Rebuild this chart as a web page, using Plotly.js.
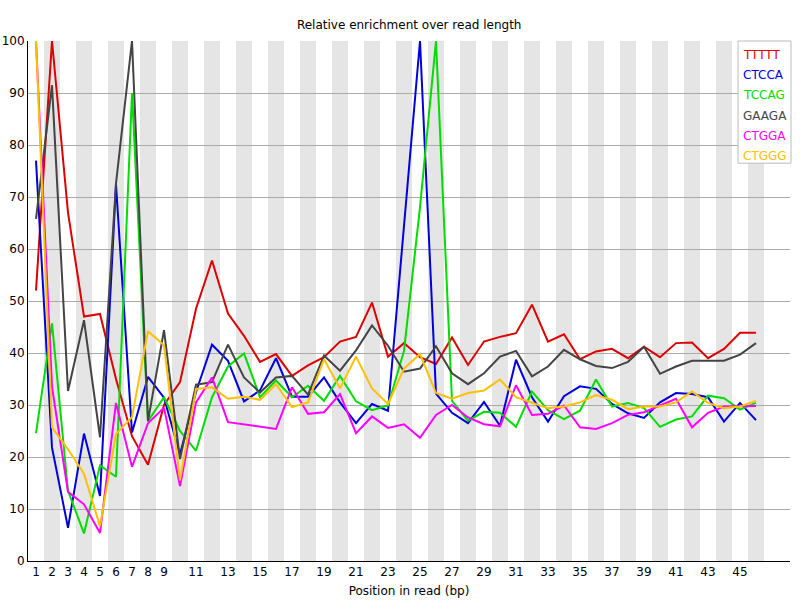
<!DOCTYPE html>
<html>
<head>
<meta charset="utf-8">
<script src="https://cdn.plot.ly/plotly-3.0.1.min.js"></script>
<style>
	body { margin: 0; background: #fff; }
	#chart { width: 800px; height: 600px; }
</style>
</head>
<body>
<div id="chart"></div>
<script>
var positions = [];
for (var p = 1; p <= 46; p++) { positions.push(p); }

var tickVals = [1, 2, 3, 4, 5, 6, 7, 8, 9, 11, 13, 15, 17, 19, 21, 23, 25, 27, 29, 31, 33, 35, 37, 39, 41, 43, 45];
var tickText = ["1", "2", "3", "4", "5", "6", "7", "8", "9", "11", "13", "15", "17", "19", "21", "23", "25", "27", "29", "31", "33", "35", "37", "39", "41", "43", "45"];

var kmers = ["TTTTT", "CTCCA", "TCCAG", "GAAGA", "CTGGA", "CTGGG"];
var colours = ["#dd0000", "#0000dd", "#00dd00", "#444444", "#ff00ff", "#ffc000"];

var tttttVals = [52, 100, 67, 47, 47.5, 35, 24, 18.5, 30, 34.4, 48.5, 57.8, 47.6, 43.3, 38.3, 39.8, 35.6, 37.6, 39.2, 42.2, 43.1, 49.7, 39.3, 41.9, 39.2, 37.9, 43, 37.7, 42.2, 43.1, 43.8, 49.3, 42.2, 43.6, 38.8, 40.3, 40.8, 39, 41.2, 39.2, 41.9, 42, 39, 40.8, 43.9, 43.9];
var ctccaVals = [77, 21.8, 6.4, 24.5, 12.5, 72.4, 24.7, 35.4, 31.4, 20.5, 32.5, 41.6, 38.5, 30.7, 32.8, 39, 31.6, 31.6, 35.3, 30.5, 26.5, 30.2, 28.9, 64.5, 100, 32.2, 28.5, 26.5, 30.6, 26, 38.7, 31.5, 26.8, 31.7, 33.6, 33.1, 30.2, 28.4, 27.5, 30.5, 32.3, 32.1, 31.5, 26.8, 30.4, 27.1];
var tccagVals = [24.6, 45.7, 13.5, 5.3, 18.4, 16.2, 90, 26.9, 31.5, 25, 21.2, 31.5, 37.4, 39.9, 31.5, 34.7, 31.5, 33.7, 30.8, 35.6, 30.7, 29, 29.9, 40.4, 68, 100, 30.8, 27, 28.7, 28.5, 25.8, 32.6, 29, 27.3, 28.9, 34.9, 29.7, 30.4, 29.4, 25.8, 27.2, 27.8, 31.8, 31.3, 29.1, 30.4];
var gaagaVals = [65.8, 91.5, 32.7, 46.3, 23.8, 72.6, 100, 26.9, 44.4, 19.6, 33.9, 34.4, 41.6, 35.3, 32.4, 35.3, 35.6, 32, 39.5, 36.6, 40.5, 45.3, 41.4, 36.4, 37, 41.3, 36.1, 34, 36.1, 39.3, 40.4, 35.5, 37.4, 40.6, 38.8, 37.5, 37.1, 38.3, 41.2, 36, 37.4, 38.5, 38.5, 38.5, 39.7, 41.9];
var ctggaVals = [100, 33.5, 13.3, 10.9, 5.4, 30.4, 18.1, 26.5, 29.5, 14.4, 30.5, 35.3, 26.7, 26.3, 25.8, 25.4, 33.4, 28.3, 28.6, 32.1, 24.6, 27.8, 25.6, 26.3, 23.7, 28.1, 30, 27.6, 26.3, 25.9, 33.8, 28.1, 28.3, 29.9, 25.7, 25.4, 26.5, 28.1, 28.6, 29.9, 31.2, 25.7, 28.5, 29.7, 29.7, 29.8];
var ctgggVals = [100, 25.7, 21.5, 16.8, 6.7, 24.4, 27.7, 44.2, 41.5, 15.5, 33.1, 33.4, 31.2, 31.6, 31, 34, 29.6, 30.5, 38.8, 33.2, 39.3, 33.2, 30.2, 37, 39.8, 32.3, 31.2, 32.3, 32.8, 34.9, 31.5, 30.5, 29.4, 29.7, 30.5, 31.9, 31, 29.2, 29.7, 29.7, 30.5, 32.6, 30.4, 29.4, 29.7, 30.8];

var series = [tttttVals, ctccaVals, tccagVals, gaagaVals, ctggaVals, ctgggVals];

function drawChart() {
	var font = "DejaVu Sans, sans-serif";
	var data = [];
	for (var i = 0; i < kmers.length; i++) {
		data.push({
			x: positions,
			y: series[i],
			name: kmers[i],
			mode: 'lines',
			type: 'scatter',
			line: {color: colours[i], width: 2}
		});
	}

	// grey stripes on even positions
	var shapes = [];
	for (var j = 0; j < positions.length; j++) {
		if (positions[j] % 2 == 0) {
			shapes.push({
				type: 'rect', xref: 'x', yref: 'paper', layer: 'below',
				x0: positions[j] - 0.5, x1: positions[j] + 0.5, y0: 0, y1: 1,
				fillcolor: '#e5e5e5', line: {width: 0}
			});
		}
	}

	// legend box drawn by hand, text in series colour
	shapes.push({
		type: 'rect', xref: 'paper', yref: 'paper', layer: 'above',
		x0: 0.9318, x1: 1.0013, y0: 0.765, y1: 1.0,
		fillcolor: 'rgba(255,255,255,1)', line: {color: '#bbbbbb', width: 1}
	});
	var annotations = [];
	for (var k = 0; k < kmers.length; k++) {
		var yc = 55 + k * 20.2;
		annotations.push({
			xref: 'paper', yref: 'paper', x: 0.9355, y: (561 - yc) / 520,
			xanchor: 'left', yanchor: 'middle', showarrow: false,
			text: kmers[k], font: {family: font, size: 12, color: colours[k]}
		});
	}

	var layout = {
		width: 800,
		height: 600,
		margin: {l: 28, r: 10, t: 41, b: 39},
		paper_bgcolor: '#ffffff',
		plot_bgcolor: '#ffffff',
		showlegend: false,
		font: {family: font, size: 12, color: '#000000'},
		title: {text: 'Relative enrichment over read length', x: 0.5115, xanchor: 'center', y: 0.958, yanchor: 'middle', font: {family: font, size: 12}},
		xaxis: {
			range: [0.5, 48.125],
			tickmode: 'array', tickvals: tickVals, ticktext: tickText,
			showgrid: false, zeroline: false, ticks: '',
			showline: true, linecolor: '#000000', linewidth: 1,
			automargin: false,
			title: {text: 'Position in read (bp)', standoff: 8, font: {family: font, size: 12}}
		},
		yaxis: {
			range: [0, 100], dtick: 10,
			showgrid: true, gridcolor: '#aaaaaa', gridwidth: 1,
			zeroline: false, ticks: '',
			showline: true, linecolor: '#000000', linewidth: 1,
			automargin: false
		},
		shapes: shapes,
		annotations: annotations
	};

	Plotly.newPlot('chart', data, layout, {staticPlot: true});
}

drawChart();
</script>
</body>
</html>
